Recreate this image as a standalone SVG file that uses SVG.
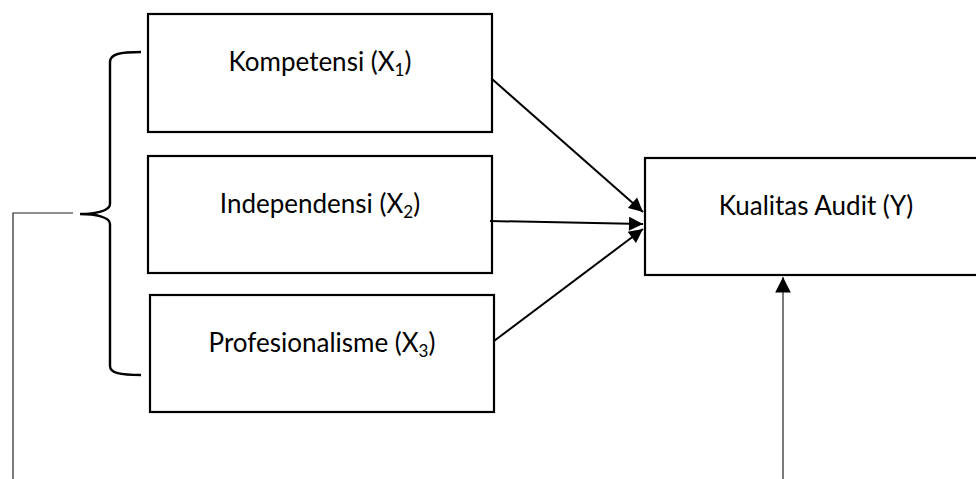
<svg xmlns="http://www.w3.org/2000/svg" width="976" height="479" viewBox="0 0 976 479">
<style>
.box{fill:#fff;stroke:#000;stroke-width:2.2}
.lbl{font-family:Lato,"Open Sans","Liberation Sans",sans-serif;font-size:26px;fill:#000;text-anchor:middle}
.sub{font-size:17px}
.arr{stroke:#000;stroke-width:2;fill:none}
.thin{stroke:#222;stroke-width:1.2;fill:none}
.brace{stroke:#000;stroke-width:2.4;fill:none}
</style>
<defs>
<marker id="ah" viewBox="0 0 10 10" refX="10" refY="5" markerWidth="7.5" markerHeight="7" markerUnits="strokeWidth" orient="auto">
<path d="M0,0 L10,5 L0,10 z" fill="#000"/>
</marker>
<marker id="ahs" viewBox="0 0 10 10" refX="10" refY="5" markerWidth="14" markerHeight="13" markerUnits="strokeWidth" orient="auto">
<path d="M0,0 L10,5 L0,10 z" fill="#000"/>
</marker>
</defs>
<rect width="976" height="479" fill="#fff"/>
<g id="x1">
<rect class="box" x="148" y="14" width="344" height="118"/>
<text class="lbl" x="320" y="71">Kompetensi (X<tspan class="sub" dy="5">1</tspan><tspan dy="-5">)</tspan></text>
</g>
<g id="x2">
<rect class="box" x="148" y="156" width="344" height="117"/>
<text class="lbl" x="320" y="213">Independensi (X<tspan class="sub" dy="5">2</tspan><tspan dy="-5">)</tspan></text>
</g>
<g id="x3">
<rect class="box" x="150" y="295" width="344" height="117"/>
<text class="lbl" x="322" y="352">Profesionalisme (X<tspan class="sub" dy="5">3</tspan><tspan dy="-5">)</tspan></text>
</g>
<g id="y">
<rect class="box" x="645" y="158" width="345" height="117"/>
<text class="lbl" x="816" y="215">Kualitas Audit (Y)</text>
</g>
<g id="brace">
<path class="brace" d="M141,52 C120,52 110,54 110,62 L110,204 C110,211 95,214 80,214 C95,214 110,217 110,224 L110,366 C110,373 120,375 141,375"/>
</g>
<g id="connectors">
<line class="arr" x1="492" y1="79" x2="643" y2="212" marker-end="url(#ah)"/>
<line class="arr" x1="490" y1="221" x2="643" y2="224" marker-end="url(#ah)"/>
<line class="arr" x1="494" y1="341" x2="643" y2="229" marker-end="url(#ah)"/>
<line class="thin" x1="783" y1="479" x2="783" y2="277" marker-end="url(#ahs)"/>
<polyline class="thin" points="73,213 13,213 13,479"/>
</g>
</svg>
